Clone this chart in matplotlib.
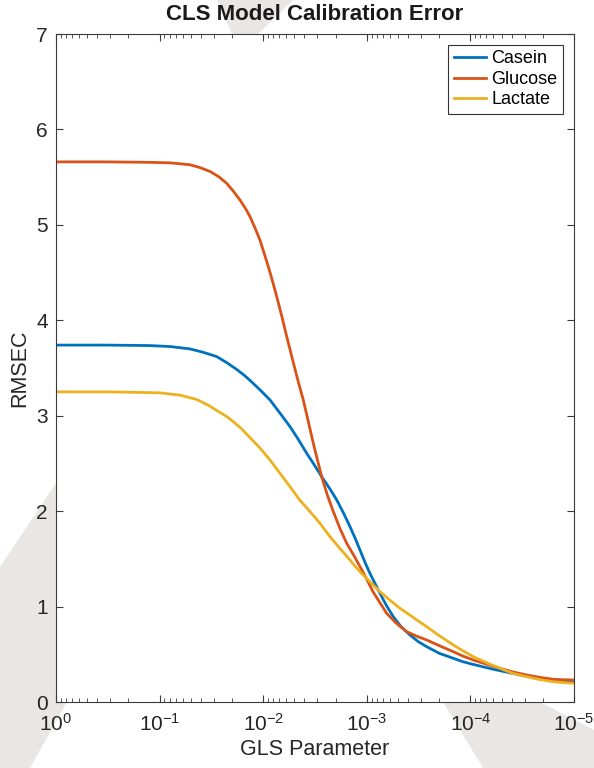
import numpy as np
import matplotlib.pyplot as plt
from matplotlib.patches import Polygon
from matplotlib.ticker import LogLocator, NullFormatter

plt.rcParams["font.family"] = ["Liberation Sans", "DejaVu Sans"]
plt.rcParams["mathtext.fontset"] = "custom"
plt.rcParams["mathtext.rm"] = "Liberation Sans"
plt.rcParams["mathtext.it"] = "Liberation Sans"

# log10 of the GLS parameter at each sampled point
casein_log = [0, -0.5, -0.907, -1.1, -1.293, -1.42, -1.55, -1.65, -1.744, -1.81,
              -1.873, -1.97, -2.066, -2.16, -2.259, -2.34, -2.42, -2.49, -2.565,
              -2.64, -2.71, -2.775, -2.838, -2.886, -2.934, -2.98, -3.03, -3.08,
              -3.127, -3.19, -3.256, -3.33, -3.417, -3.5, -3.578, -3.7, -3.835,
              -3.92, -4.012, -4.221, -4.479, -4.737, -5.0]
casein_rmsec = [3.74, 3.74, 3.735, 3.725, 3.70, 3.665, 3.62, 3.555, 3.485, 3.43,
                3.37, 3.27, 3.165, 3.03, 2.885, 2.75, 2.606, 2.49, 2.36,
                2.24, 2.117, 1.98, 1.837, 1.72, 1.593, 1.47, 1.349, 1.24,
                1.139, 1.01, 0.894, 0.79, 0.702, 0.63, 0.58, 0.51, 0.458,
                0.425, 0.398, 0.343, 0.283, 0.238, 0.213]

glucose_log = [0, -0.5, -0.907, -1.1, -1.293, -1.39, -1.486, -1.57, -1.648, -1.71,
               -1.776, -1.83, -1.873, -1.92, -1.969, -2.01, -2.05, -2.09, -2.13,
               -2.18, -2.227, -2.29, -2.34, -2.387, -2.435, -2.484, -2.525,
               -2.565, -2.62, -2.677, -2.74, -2.806, -2.87, -2.934, -3.0, -3.063,
               -3.13, -3.192, -3.28, -3.385, -3.48, -3.578, -3.7, -3.835, -3.93,
               -4.028, -4.16, -4.286, -4.41, -4.543, -4.67, -4.80, -4.9, -5.0]
glucose_rmsec = [5.66, 5.66, 5.655, 5.65, 5.63, 5.60, 5.56, 5.505, 5.435, 5.355,
                 5.26, 5.17, 5.085, 4.97, 4.84, 4.70, 4.56, 4.41, 4.25,
                 4.04, 3.83, 3.56, 3.35, 3.165, 2.94, 2.71, 2.53,
                 2.36, 2.165, 1.995, 1.82, 1.663, 1.545, 1.42, 1.285, 1.15,
                 1.035, 0.929, 0.83, 0.737, 0.69, 0.65, 0.59, 0.527, 0.48,
                 0.44, 0.395, 0.353, 0.315, 0.283, 0.258, 0.238, 0.233, 0.231]

lactate_log = [0, -0.5, -1.0, -1.2, -1.358, -1.47, -1.574, -1.65, -1.72, -1.79,
               -1.873, -1.97, -2.066, -2.16, -2.259, -2.35, -2.452, -2.55, -2.645,
               -2.74, -2.838, -2.885, -2.934, -3.03, -3.127, -3.22, -3.32, -3.45,
               -3.578, -3.7, -3.835, -3.93, -4.028, -4.16, -4.286, -4.41, -4.543,
               -4.67, -4.80, -4.9, -5.0]
lactate_rmsec = [3.25, 3.25, 3.24, 3.215, 3.17, 3.11, 3.04, 2.99, 2.93, 2.865,
                 2.77, 2.66, 2.536, 2.40, 2.256, 2.12, 1.995, 1.87, 1.732,
                 1.61, 1.488, 1.425, 1.366, 1.26, 1.156, 1.07, 0.982, 0.885,
                 0.789, 0.695, 0.597, 0.535, 0.475, 0.41, 0.353, 0.30, 0.265,
                 0.235, 0.213, 0.203, 0.196]

series = [
    ("Casein", casein_log, casein_rmsec, "#0072BD"),
    ("Glucose", glucose_log, glucose_rmsec, "#D95319"),
    ("Lactate", lactate_log, lactate_rmsec, "#EDB120"),
]

fig = plt.figure(figsize=(5.94, 7.68), dpi=100)

# faint background shapes behind the axes
shade = "#e8e7e3"
for pts in [
    [(0, 567), (60, 477), (120, 400), (120, 702), (67, 702), (30, 768), (0, 768)],
    [(217, 0), (293, 0), (258, 34), (232, 34)],
    [(443, 702), (540, 702), (594, 730), (594, 768), (483, 768)],
]:
    xy = [(px / 594, 1 - py / 768) for px, py in pts]
    fig.patches.append(Polygon(xy, closed=True, transform=fig.transFigure,
                               facecolor=shade, edgecolor="none", zorder=-1))

ax = fig.add_axes([56 / 594, 1 - 702 / 768, 518 / 594, 668 / 768])
ax.set_facecolor("white")

for name, lx, ly, color in series:
    ax.plot(10.0 ** np.array(lx), ly, color=color, linewidth=2, label=name,
            solid_joinstyle="round")

ax.set_xscale("log")
ax.set_xlim(1, 1e-5)
ax.set_ylim(0, 7)
ax.set_xticks([1, 1e-1, 1e-2, 1e-3, 1e-4, 1e-5])
ax.set_xticklabels(["$10^{0}$", "$10^{-1}$", "$10^{-2}$", "$10^{-3}$",
                    "$10^{-4}$", "$10^{-5}$"])
ax.xaxis.set_minor_locator(LogLocator(base=10, subs=np.arange(2, 10), numticks=20))
ax.xaxis.set_minor_formatter(NullFormatter())
ax.set_yticks(range(0, 8))

axis_color = "#3a3a3a"
for spine in ax.spines.values():
    spine.set_color(axis_color)
    spine.set_linewidth(0.8)
ax.tick_params(which="both", direction="in", top=True, right=True,
               colors=axis_color, labelcolor="#262626", labelsize=15)
ax.tick_params(which="major", length=5, width=0.8)
ax.tick_params(which="minor", length=3, width=0.6)
ax.tick_params(axis="x", which="major", pad=8)
ax.tick_params(axis="y", which="major", pad=6)

ax.set_xlabel("GLS Parameter", fontsize=15.5, color="#262626", labelpad=3)
ax.set_ylabel("RMSEC", fontsize=15.5, color="#262626", labelpad=4)
ax.set_title("CLS Model Calibration Error", fontsize=16, fontweight="bold",
             color="#1a1a1a", pad=10)

leg = ax.legend(loc="upper right", fontsize=13, frameon=True, fancybox=False,
                edgecolor="#333333", framealpha=1, handlelength=1.8,
                handletextpad=0.3, borderpad=0.3, labelspacing=0.2,
                borderaxespad=0.6)
leg.get_frame().set_linewidth(0.8)

fig.savefig("out.png", dpi=100)
